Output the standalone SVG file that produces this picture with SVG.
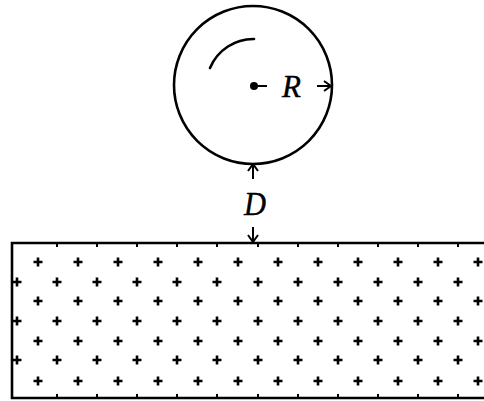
<svg xmlns="http://www.w3.org/2000/svg" width="484" height="401" viewBox="0 0 484 401">
<defs>
<style>
.ln{stroke:#000;stroke-width:2.6;fill:none;stroke-linecap:round}
.pl{stroke:#000;stroke-width:2.6;fill:none}
.tk{stroke:#000;stroke-width:2}
.lbl{font-family:"Liberation Serif","Times New Roman",serif;font-style:italic;fill:#000;stroke:#000;stroke-width:0.4}
</style>
<marker id="ah" viewBox="-9 -6 10 12" markerWidth="10" markerHeight="12" refX="0" refY="0" orient="auto" markerUnits="userSpaceOnUse">
<path d="M-7,-5 L0,0 L-7,5" fill="none" stroke="#000" stroke-width="2"/>
</marker>
<path id="p" d="M-4.5,0 H4.5 M0,-4.5 V4.5"/>
</defs>
<g id="sphere">
<circle cx="253" cy="85" r="79" class="ln"/>
<path d="M210,68 A47,47 0 0 1 254,39" class="ln" stroke-width="3"/>
<circle cx="254" cy="86" r="4" fill="#000"/>
</g>
<g id="radius-label">
<text x="282" y="97" class="lbl" font-size="31">R</text>
</g>
<g id="distance-label">
<text x="244" y="215" class="lbl" font-size="33" textLength="22" lengthAdjust="spacingAndGlyphs">D</text>
</g>
<g id="slab">
<path d="M484,243 H12 V398 H484" class="ln" stroke-width="3"/>
<g class="tk">
<path d="M57,243v4M97,243v4M137,243v4M177,243v4M217,243v4M258,243v4M298,243v4M338,243v4M378,243v4M418,243v4M458,243v4"/>
<path d="M57,398v-4M97,398v-4M137,398v-4M177,398v-4M217,398v-4M258,398v-4M298,398v-4M338,398v-4M378,398v-4M418,398v-4M458,398v-4"/>
</g>
<g class="pl" id="pluses">
<use href="#p" x="38" y="262"/><use href="#p" x="78" y="262"/><use href="#p" x="118" y="262"/><use href="#p" x="158" y="262"/><use href="#p" x="198" y="262"/><use href="#p" x="238" y="262"/><use href="#p" x="278" y="262"/><use href="#p" x="318" y="262"/><use href="#p" x="358" y="262"/><use href="#p" x="398" y="262"/><use href="#p" x="438" y="262"/><use href="#p" x="478" y="262"/>
<use href="#p" x="17" y="282"/><use href="#p" x="57" y="282"/><use href="#p" x="97" y="282"/><use href="#p" x="137" y="282"/><use href="#p" x="177" y="282"/><use href="#p" x="217" y="282"/><use href="#p" x="258" y="282"/><use href="#p" x="298" y="282"/><use href="#p" x="338" y="282"/><use href="#p" x="378" y="282"/><use href="#p" x="418" y="282"/><use href="#p" x="458" y="282"/>
<use href="#p" x="38" y="301"/><use href="#p" x="78" y="301"/><use href="#p" x="118" y="301"/><use href="#p" x="158" y="301"/><use href="#p" x="198" y="301"/><use href="#p" x="238" y="301"/><use href="#p" x="278" y="301"/><use href="#p" x="318" y="301"/><use href="#p" x="358" y="301"/><use href="#p" x="398" y="301"/><use href="#p" x="438" y="301"/><use href="#p" x="478" y="301"/>
<use href="#p" x="17" y="321"/><use href="#p" x="57" y="321"/><use href="#p" x="97" y="321"/><use href="#p" x="137" y="321"/><use href="#p" x="177" y="321"/><use href="#p" x="217" y="321"/><use href="#p" x="258" y="321"/><use href="#p" x="298" y="321"/><use href="#p" x="338" y="321"/><use href="#p" x="378" y="321"/><use href="#p" x="418" y="321"/><use href="#p" x="458" y="321"/>
<use href="#p" x="38" y="341"/><use href="#p" x="78" y="341"/><use href="#p" x="118" y="341"/><use href="#p" x="158" y="341"/><use href="#p" x="198" y="341"/><use href="#p" x="238" y="341"/><use href="#p" x="278" y="341"/><use href="#p" x="318" y="341"/><use href="#p" x="358" y="341"/><use href="#p" x="398" y="341"/><use href="#p" x="438" y="341"/><use href="#p" x="478" y="341"/>
<use href="#p" x="17" y="360"/><use href="#p" x="57" y="360"/><use href="#p" x="97" y="360"/><use href="#p" x="137" y="360"/><use href="#p" x="177" y="360"/><use href="#p" x="217" y="360"/><use href="#p" x="258" y="360"/><use href="#p" x="298" y="360"/><use href="#p" x="338" y="360"/><use href="#p" x="378" y="360"/><use href="#p" x="418" y="360"/><use href="#p" x="458" y="360"/>
<use href="#p" x="38" y="381"/><use href="#p" x="78" y="381"/><use href="#p" x="118" y="381"/><use href="#p" x="158" y="381"/><use href="#p" x="198" y="381"/><use href="#p" x="238" y="381"/><use href="#p" x="278" y="381"/><use href="#p" x="318" y="381"/><use href="#p" x="358" y="381"/><use href="#p" x="398" y="381"/><use href="#p" x="438" y="381"/><use href="#p" x="478" y="381"/>
</g>
</g>
<g id="connectors" stroke="#000" stroke-width="2" fill="none">
<path d="M257,86 H267"/>
<path d="M317,86 H331" marker-end="url(#ah)"/>
<path d="M253,179 V164" marker-end="url(#ah)"/>
<path d="M253,227 V242" marker-end="url(#ah)"/>
</g>
</svg>
